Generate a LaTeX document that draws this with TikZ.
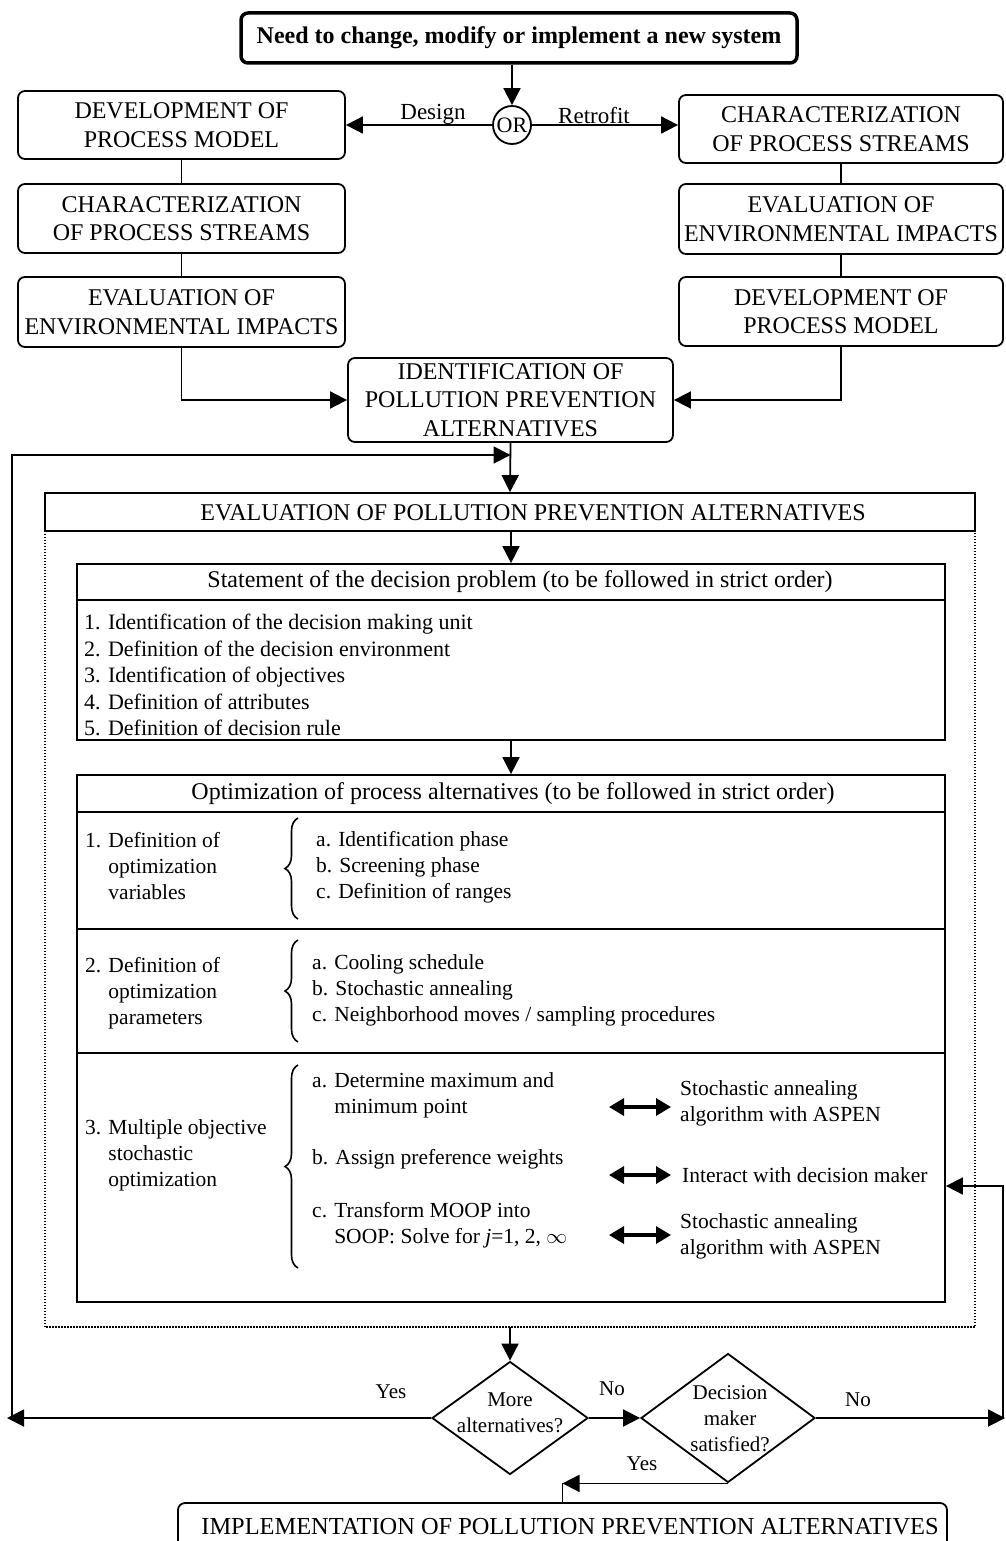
\documentclass[tikz,border=0pt]{standalone}
\usepackage{fontspec}
\setmainfont{Liberation Serif}
\usetikzlibrary{arrows.meta,shapes.geometric,decorations.pathreplacing}
\begin{document}
\begin{tikzpicture}[x=1pt,y=-1pt,
  capsf/.style={font=\fontsize{24}{28.5}\selectfont},
  headf/.style={font=\fontsize{24}{28}\selectfont},
  bodyf/.style={font=\fontsize{22}{26.5}\selectfont},
  rowf/.style={font=\fontsize{21.5}{26}\selectfont},
  smallf/.style={font=\fontsize{21}{26}\selectfont},
  lblf/.style={font=\fontsize{21}{25}\selectfont, inner sep=0pt},
  rbox/.style={draw, line width=1.8pt, rounded corners=7pt, inner sep=0pt, align=center, capsf},
  sbox/.style={draw, line width=1.8pt, inner sep=0pt},
  ln/.style={line width=1.8pt},
  arr/.style={line width=1.8pt, -{Triangle[length=17pt,width=17pt]}},
  dbl/.style={line width=3.2pt, {Triangle[length=15pt,width=17pt]}-{Triangle[length=15pt,width=17pt]}},
  txt/.style={inner sep=0pt, align=left, anchor=west},
  brc/.style={line width=1.6pt, decorate, decoration={brace, amplitude=13pt}},
  dec/.style={draw, diamond, line width=1.8pt, inner sep=0pt},
]
\useasboundingbox (0,0) rectangle (1005,1541);

% top
\node[rbox, line width=3.5pt, minimum width=556pt, minimum height=50pt,
      font=\bfseries\fontsize{24}{28}\selectfont] (top) at (519,38) {Need to change, modify or implement a new system};
\node[draw, circle, line width=1.8pt, minimum size=38pt, inner sep=0pt,
      font=\fontsize{22}{26}\selectfont] (or) at (512,125) {OR};
\node[lblf, font=\fontsize{23}{26}\selectfont] (design) at (433,114) {Design};
\node[lblf, font=\fontsize{23}{26}\selectfont] (retro) at (594,116) {Retrofit};

% left column
\node[rbox, minimum width=327pt, minimum height=68pt] (L1) at (181.5,125) {DEVELOPMENT OF\\PROCESS MODEL};
\node[rbox, minimum width=327pt, minimum height=69pt] (L2) at (181.5,218.5) {CHARACTERIZATION\\OF PROCESS STREAMS};
\node[rbox, minimum width=327pt, minimum height=70pt] (L3) at (181.5,312) {EVALUATION OF\\ENVIRONMENTAL IMPACTS};
% right column
\node[rbox, minimum width=324pt, minimum height=68pt] (R1) at (841,129) {CHARACTERIZATION\\OF PROCESS STREAMS};
\node[rbox, minimum width=324pt, minimum height=70pt] (R2) at (841,219) {EVALUATION OF\\ENVIRONMENTAL IMPACTS};
\node[rbox, minimum width=324pt, minimum height=69pt] (R3) at (841,311.5) {DEVELOPMENT OF\\PROCESS MODEL};
% identification
\node[rbox, minimum width=325pt, minimum height=84pt] (ident) at (510.5,400) {IDENTIFICATION OF\\POLLUTION PREVENTION\\ALTERNATIVES};

% evaluation
\node[sbox, minimum width=930pt, minimum height=38pt] (eval) at (510,512) {};
\node[capsf, inner sep=0pt] (evalt) at (533,513) {EVALUATION OF POLLUTION PREVENTION ALTERNATIVES};
\node[inner sep=0pt, minimum width=930pt, minimum height=796pt] (outer) at (510,929) {};
\draw[line width=1.8pt, dash pattern=on 1.4pt off 1.6pt] (outer.north west) -- (outer.south west) -- (outer.south east) -- (outer.north east);

% statement
\node[sbox, minimum width=868pt, minimum height=36pt] (sthead) at (511,582) {};
\node[headf, inner sep=0pt] (stheadt) at (520,582) {Statement of the decision problem (to be followed in strict order)};
\node[sbox, minimum width=868pt, minimum height=140pt] (stbody) at (511,670) {};
\node[txt, bodyf] (stlist) at (84,675) {1. Identification of the decision making unit\\2. Definition of the decision environment\\3. Identification of objectives\\4. Definition of attributes\\5. Definition of decision rule};

% optimization
\node[sbox, minimum width=868pt, minimum height=37pt] (ophead) at (511,793.5) {};
\node[headf, inner sep=0pt] (opheadt) at (513,794) {Optimization of process alternatives (to be followed in strict order)};
\node[sbox, minimum width=868pt, minimum height=117pt] (o1) at (511,870.5) {};
\node[sbox, minimum width=868pt, minimum height=124pt] (o2) at (511,991) {};
\node[sbox, minimum width=868pt, minimum height=249pt] (o3) at (511,1177.5) {};

\node[txt, rowf] (o1l) at (85,866) {1. Definition of\\\phantom{1. }optimization\\\phantom{1. }variables};
\draw[brc] (298,919) -- (298,818);
\node[txt, rowf] (o1r) at (316,867) {a. Identification phase\\b. Screening phase\\c. Definition of ranges};

\node[txt, rowf] (o2l) at (85,993) {2. Definition of\\\phantom{2. }optimization\\\phantom{2. }parameters};
\draw[brc] (298,1042) -- (298,940);
\node[txt, rowf] (o2r) at (312,990) {a. Cooling schedule\\b. Stochastic annealing\\c. Neighborhood moves / sampling procedures};

\node[txt, rowf] (o3l) at (85,1155) {3. Multiple objective\\\phantom{3. }stochastic\\\phantom{3. }optimization};
\draw[brc] (298,1268) -- (298,1065);
\node[txt, rowf] (o3a) at (312,1095) {a. Determine maximum and\\\phantom{a. }minimum point};
\node[txt, rowf] (o3b) at (312,1159) {b. Assign preference weights};
\node[txt, rowf] (o3c) at (312,1225) {c. Transform MOOP into\\\phantom{c. }SOOP: Solve for \textit{j}=1, 2, $\infty$};

\node[txt, rowf] (sa1) at (680,1103) {Stochastic annealing\\algorithm with ASPEN};
\node[txt, rowf] (idm) at (682,1175) {Interact with decision maker};
\node[txt, rowf] (sa2) at (680,1236) {Stochastic annealing\\algorithm with ASPEN};

\coordinate (da1s) at (609,1107); \coordinate (da1e) at (671,1107);
\coordinate (da2s) at (609,1175); \coordinate (da2e) at (671,1175);
\coordinate (da3s) at (609,1235); \coordinate (da3e) at (671,1235);
\draw[dbl] (da1s) -- (da1e);
\draw[dbl] (da2s) -- (da2e);
\draw[dbl] (da3s) -- (da3e);

% decisions
\node[dec, minimum width=156pt, minimum height=113pt] (d1) at (510,1418) {};
\node[smallf, align=center, inner sep=0pt] (d1t) at (510,1413) {More\\alternatives?};
\node[dec, minimum width=174pt, minimum height=129pt] (d2) at (728,1418) {};
\node[smallf, align=center, inner sep=0pt] (d2t) at (730,1419) {Decision\\maker\\satisfied?};
\node[lblf] (yes1) at (391,1392) {Yes};
\node[lblf] (no1) at (612,1389) {No};
\node[lblf] (no2) at (858,1400) {No};
\node[lblf] (yes2) at (642,1464) {Yes};

% implementation
\begin{scope}
\clip (0,0) rectangle (1005,1541);
\node[rbox, minimum width=769pt, minimum height=70pt] (impl) at (562.5,1538) {};
\end{scope}
\node[capsf, font=\fontsize{24.4}{28}\selectfont, inner sep=0pt] (implt) at (570,1527) {IMPLEMENTATION OF POLLUTION PREVENTION ALTERNATIVES};

% coordinates for loops
\coordinate (FL) at (7,1418);
\coordinate (LL) at (12,1418);
\coordinate (LT) at (12,455);
\coordinate (FR) at (1005,1418);
\coordinate (RB) at (1003,1418);
\coordinate (RT) at (1003,1186);

% connectors
\draw[arr] (or.north |- top.south) -- (or.north);
\draw[arr] (or.west) -- (or.west -| L1.east);
\draw[arr] (or.east) -- (or.east -| R1.west);
\draw[ln] (L1.south) -- (L2.north);
\draw[ln] (L2.south) -- (L3.north);
\draw[ln] (R1.south) -- (R2.north);
\draw[ln] (R2.south) -- (R3.north);
\draw[arr] (L3.south) |- (ident.west);
\draw[arr] (R3.south) |- (ident.east);
\draw[arr] (ident.south) -- (eval.north);
\draw[arr] (LL) -- (LT) -- (LT -| ident.south);
\draw[arr] (sthead.north |- eval.south) -- (sthead.north);
\draw[arr] (stbody.south) -- (ophead.north);
\draw[arr] (outer.south) -- (d1.north);
\draw[arr] (d1.east) -- (d2.west);
\draw[arr] (d1.west) -- (FL);
\draw[arr] (d2.east) -- (FR);
\draw[arr] (RB) -- (RT) -- (RT -| o3.east);
\draw[arr] (d2.south) -- (d2.south -| impl.north);
\draw[ln] (d2.south -| impl.north) -- (impl.north);
\end{tikzpicture}
\end{document}
